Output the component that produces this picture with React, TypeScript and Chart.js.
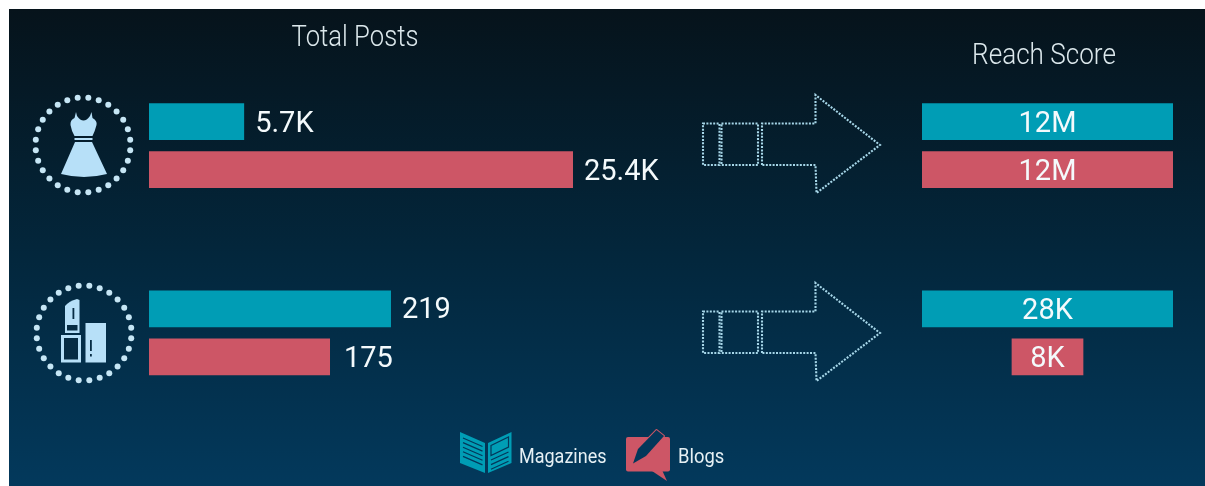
import React, { useEffect, useRef } from "react";
import { Chart, registerables } from "chart.js";

Chart.register(...registerables);

// ---------- data ----------
const rows = ["Fashion", "Beauty"];
const seriesNames = ["Magazines", "Blogs"];
const panelTitles = ["Total Posts", "Reach Score"];
const postsMagazines = [5700, 219];
const postsBlogs = [25400, 175];
const reachMagazines = [12000000, 28000];
const reachBlogs = [12000000, 8000];
const postsMagazinesLabels = ["5.7K", "219"];
const postsBlogsLabels = ["25.4K", "175"];
const reachMagazinesLabels = ["12M", "28K"];
const reachBlogsLabels = ["12M", "8K"];

// ---------- style ----------
const TEAL = "#009DB5";
const RED = "#CD5666";
const ICON = "#B7E0F8";
const DOT = "#C6E6F5";
const ORIGIN = 9; // canvas offset in the page
const W = 1196;
const H = 477;
const AREA_LEFT = 149;
const AREA_RIGHT = 1173;
const AREA_W = AREA_RIGHT - AREA_LEFT;
const REACH_CENTRE = 1047.5;
const VALUE_FONT = "29px Roboto, sans-serif";

function postsAxis(min: number, pxPerUnit: number) {
  return { type: "linear", axis: "x", display: false, stacked: false, min, max: min + AREA_W / pxPerUnit };
}
function reachAxis(pxPerUnit: number) {
  return {
    type: "linear",
    axis: "x",
    display: false,
    stacked: false,
    min: -(REACH_CENTRE - AREA_LEFT) / pxPerUnit,
    max: (AREA_RIGHT - REACH_CENTRE) / pxPerUnit,
  };
}

function buildDatasets() {
  const out: any[] = [];
  rows.forEach((_, r) => {
    const only = (v: any) => rows.map((__, i) => (i === r ? v : null));
    out.push({ label: seriesNames[0], stack: "m", xAxisID: `posts${r}`, data: only(postsMagazines[r]), backgroundColor: TEAL, text: postsMagazinesLabels[r], place: "end", gap: 11, lift: r === 1 ? 2 : 3 });
    out.push({ label: seriesNames[1], stack: "b", xAxisID: `posts${r}`, data: only(postsBlogs[r]), backgroundColor: RED, text: postsBlogsLabels[r], place: "end", gap: r === 1 ? 14 : 11, lift: 3 });
    out.push({ label: seriesNames[0], stack: "m", xAxisID: `reach${r}`, data: only([-reachMagazines[r] / 2, reachMagazines[r] / 2]), backgroundColor: TEAL, text: reachMagazinesLabels[r], place: "centre", lift: 3 });
    out.push({ label: seriesNames[1], stack: "b", xAxisID: `reach${r}`, data: only([-reachBlogs[r] / 2, reachBlogs[r] / 2]), backgroundColor: RED, text: reachBlogsLabels[r], place: "centre", lift: 3 });
  });
  return out;
}

// ---------- decoration helpers (page coordinates) ----------
function dotRing(ctx: CanvasRenderingContext2D, cx: number, cy: number) {
  const n = 28;
  ctx.fillStyle = DOT;
  for (let i = 0; i < n; i++) {
    const a = ((i + 0.5) / n) * Math.PI * 2 - Math.PI / 2;
    ctx.beginPath();
    ctx.arc(cx + Math.cos(a) * 47.5, cy + Math.sin(a) * 47.5, 3, 0, Math.PI * 2);
    ctx.fill();
  }
}

function dress(ctx: CanvasRenderingContext2D) {
  ctx.fillStyle = ICON;
  ctx.beginPath();
  ctx.moveTo(76, 112);
  ctx.lineTo(77, 116);
  ctx.quadraticCurveTo(83.5, 125, 90, 116);
  ctx.lineTo(91.5, 112);
  ctx.lineTo(92.5, 118);
  ctx.quadraticCurveTo(97.5, 121, 96.5, 125);
  ctx.quadraticCurveTo(95, 131, 92.5, 136);
  ctx.lineTo(74.5, 136);
  ctx.quadraticCurveTo(71.5, 131, 70.5, 125);
  ctx.quadraticCurveTo(70, 120, 74.5, 118);
  ctx.closePath();
  ctx.fill();
  ctx.fillRect(74.5, 138, 18, 2);
  ctx.beginPath();
  ctx.moveTo(75, 142);
  ctx.lineTo(92, 142);
  ctx.lineTo(107, 174);
  ctx.quadraticCurveTo(84, 180, 61, 174);
  ctx.closePath();
  ctx.fill();
}

function lipstick(ctx: CanvasRenderingContext2D) {
  const dark = "#062C44";
  ctx.fillStyle = ICON;
  ctx.beginPath();
  ctx.moveTo(65, 323);
  ctx.lineTo(65, 306);
  ctx.quadraticCurveTo(69, 301, 77, 299);
  ctx.lineTo(79.5, 300);
  ctx.lineTo(79.5, 323);
  ctx.closePath();
  ctx.fill();
  ctx.fillRect(65, 323, 14.5, 10);
  ctx.fillRect(61, 335, 20, 27.5);
  ctx.fillRect(85.5, 323, 20.5, 39.5);
  ctx.fillStyle = dark;
  ctx.fillRect(72.5, 308, 1.8, 11);
  ctx.fillRect(67, 325, 10.5, 5.5);
  ctx.fillRect(64, 338, 14, 21.5);
  ctx.fillRect(90, 340, 1.8, 11);
  ctx.fillRect(90, 354, 1.8, 2.5);
}

function arrow(ctx: CanvasRenderingContext2D, dy: number) {
  ctx.save();
  ctx.translate(0, dy);
  ctx.strokeStyle = "#A6D6E8";
  ctx.lineWidth = 2.1;
  ctx.setLineDash([2, 1.4]);
  ctx.strokeRect(703, 123.5, 16.5, 41.5);
  ctx.strokeRect(721.5, 123.5, 36.5, 41.5);
  ctx.beginPath();
  ctx.moveTo(762, 165);
  ctx.lineTo(762, 123.5);
  ctx.lineTo(815.5, 123.5);
  ctx.lineTo(815.5, 95);
  ctx.lineTo(880, 145);
  ctx.lineTo(816.5, 193);
  ctx.lineTo(815.5, 165);
  ctx.closePath();
  ctx.stroke();
  ctx.restore();
}

function bookIcon(ctx: CanvasRenderingContext2D) {
  const bg = "#03375A";
  ctx.fillStyle = TEAL;
  ctx.beginPath();
  ctx.moveTo(460, 432);
  ctx.lineTo(485, 443);
  ctx.lineTo(485, 473);
  ctx.lineTo(460, 463);
  ctx.closePath();
  ctx.moveTo(488, 443);
  ctx.lineTo(511.5, 432);
  ctx.lineTo(511.5, 463);
  ctx.lineTo(488, 473);
  ctx.closePath();
  ctx.fill();
  ctx.strokeStyle = bg;
  ctx.lineWidth = 1.2;
  ctx.beginPath();
  for (let i = 0; i < 5; i++) {
    const off = 5 + i * 4.6;
    ctx.moveTo(463, 433 + off);
    ctx.lineTo(482.5, 441.5 + off);
  }
  for (let i = 0; i < 3; i++) {
    const off = i * 4.6;
    ctx.moveTo(491, 460 + off);
    ctx.lineTo(508.5, 452 + off);
  }
  ctx.stroke();
  ctx.beginPath();
  ctx.moveTo(491, 445.5);
  ctx.lineTo(508.5, 437);
  ctx.lineTo(508.5, 447);
  ctx.lineTo(491, 455.5);
  ctx.closePath();
  ctx.stroke();
}

function blogIcon(ctx: CanvasRenderingContext2D) {
  const bg = "#03375A";
  ctx.fillStyle = RED;
  ctx.beginPath();
  ctx.roundRect(626, 437, 44, 34.5, 2);
  ctx.fill();
  ctx.beginPath();
  ctx.moveTo(652, 471);
  ctx.lineTo(667, 481);
  ctx.lineTo(662, 470);
  ctx.closePath();
  ctx.fill();
  // pencil with its outline poking out above the bubble
  ctx.beginPath();
  ctx.moveTo(633, 463.5);
  ctx.lineTo(638, 449);
  ctx.lineTo(656.5, 430);
  ctx.lineTo(664, 436);
  ctx.lineTo(646, 456);
  ctx.closePath();
  ctx.lineJoin = "round";
  ctx.lineWidth = 2;
  ctx.strokeStyle = RED;
  ctx.stroke();
  ctx.fillStyle = bg;
  ctx.fill();
}

function narrowText(ctx: CanvasRenderingContext2D, text: string, x: number, y: number, sx: number) {
  ctx.save();
  ctx.translate(x, y);
  ctx.scale(sx, 1);
  ctx.fillText(text, 0, 0);
  ctx.restore();
}

const paintPlugin = {
  id: "paint",
  beforeDraw(chart: any) {
    const { ctx } = chart;
    const g = ctx.createLinearGradient(0, 0, 0, H);
    g.addColorStop(0, "#06131B");
    g.addColorStop(0.5, "#03263B");
    g.addColorStop(1, "#03395C");
    ctx.save();
    ctx.fillStyle = g;
    ctx.fillRect(0, 0, W, H);
    ctx.restore();
  },
  afterDatasetsDraw(chart: any) {
    const { ctx } = chart;
    ctx.save();

    // bar value labels, placed from the bars themselves
    ctx.font = VALUE_FONT;
    ctx.fillStyle = "#F4FAFC";
    ctx.textBaseline = "middle";
    chart.data.datasets.forEach((ds: any, di: number) => {
      chart.getDatasetMeta(di).data.forEach((bar: any, i: number) => {
        if (ds.data[i] === null) return;
        const p = bar.getProps(["x", "y", "base"], true);
        if (ds.place === "end") {
          ctx.textAlign = "left";
          ctx.fillText(ds.text, p.x + ds.gap, p.y + ds.lift);
        } else {
          ctx.textAlign = "center";
          ctx.fillText(ds.text, (p.x + p.base) / 2, p.y + ds.lift);
        }
      });
    });

    // everything below is laid out in page coordinates
    ctx.translate(-ORIGIN, -ORIGIN);
    ctx.textBaseline = "alphabetic";
    ctx.fillStyle = "#DCE8EC";
    ctx.textAlign = "center";
    ctx.font = "300 29px Roboto, sans-serif";
    narrowText(ctx, panelTitles[0], 355, 46, 0.885);
    narrowText(ctx, panelTitles[1], 1044, 64, 0.9);

    dotRing(ctx, 83, 145);
    dress(ctx);
    dotRing(ctx, 84, 333);
    lipstick(ctx);
    arrow(ctx, 0);
    arrow(ctx, 188);

    bookIcon(ctx);
    blogIcon(ctx);
    ctx.fillStyle = "#E6F0F4";
    ctx.textAlign = "left";
    ctx.font = "20px Roboto, sans-serif";
    narrowText(ctx, seriesNames[0], 519, 463, 0.9);
    narrowText(ctx, seriesNames[1], 678, 463, 0.92);
    ctx.restore();
  },
};

export default function App() {
  const ref = useRef<HTMLCanvasElement>(null);
  useEffect(() => {
    const chart = new Chart(ref.current as HTMLCanvasElement, {
      type: "bar",
      data: { labels: rows, datasets: buildDatasets() },
      plugins: [paintPlugin],
      options: {
        indexAxis: "y",
        animation: false,
        responsive: false,
        devicePixelRatio: 1,
        categoryPercentage: 0.5127,
        barPercentage: 0.77,
        layout: {
          padding: {
            left: AREA_LEFT - ORIGIN,
            right: W + ORIGIN - AREA_RIGHT,
            top: 43,
            bottom: 59.5,
          },
        },
        plugins: { legend: { display: false }, tooltip: { enabled: false }, title: { display: false } },
        scales: {
          y: { type: "category", axis: "y", display: false, offset: true },
          posts0: postsAxis(0, 424 / 25400),
          // the second row's two bars fit a baseline a little above zero
          posts1: postsAxis(44.4, 1.386),
          reach0: reachAxis(251 / 12000000),
          reach1: reachAxis(251 / 28000),
        },
      } as any,
    });
    return () => chart.destroy();
  }, []);
  return (
    <canvas
      ref={ref}
      width={W}
      height={H}
      style={{ display: "block", position: "fixed", left: ORIGIN, top: ORIGIN, width: W, height: H, filter: "blur(0.6px)" }}
    />
  );
}
